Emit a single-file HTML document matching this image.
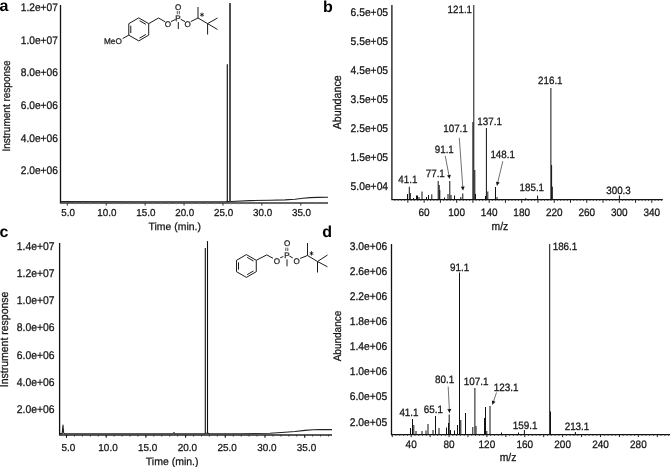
<!DOCTYPE html>
<html><head><meta charset="utf-8"><style>
html,body{margin:0;padding:0;background:#fff;}
svg{display:block;font-family:"Liberation Sans", sans-serif;text-rendering:geometricPrecision;filter:blur(0.35px);}
</style></head><body>
<svg width="670" height="467" viewBox="0 0 670 467">
<rect width="670" height="467" fill="#fff"/>
<line x1="60.50" y1="5.00" x2="60.50" y2="203.00" stroke="#111" stroke-width="1.3"/>
<line x1="59.90" y1="203.00" x2="328.00" y2="203.00" stroke="#333" stroke-width="1.5"/>
<line x1="67.31" y1="203.00" x2="67.31" y2="205.60" stroke="#333" stroke-width="1.0"/>
<line x1="75.10" y1="203.00" x2="75.10" y2="204.40" stroke="#888" stroke-width="0.8"/>
<line x1="82.88" y1="203.00" x2="82.88" y2="204.40" stroke="#888" stroke-width="0.8"/>
<line x1="90.66" y1="203.00" x2="90.66" y2="204.40" stroke="#888" stroke-width="0.8"/>
<line x1="98.45" y1="203.00" x2="98.45" y2="204.40" stroke="#888" stroke-width="0.8"/>
<line x1="106.23" y1="203.00" x2="106.23" y2="205.60" stroke="#333" stroke-width="1.0"/>
<line x1="114.01" y1="203.00" x2="114.01" y2="204.40" stroke="#888" stroke-width="0.8"/>
<line x1="121.80" y1="203.00" x2="121.80" y2="204.40" stroke="#888" stroke-width="0.8"/>
<line x1="129.58" y1="203.00" x2="129.58" y2="204.40" stroke="#888" stroke-width="0.8"/>
<line x1="137.36" y1="203.00" x2="137.36" y2="204.40" stroke="#888" stroke-width="0.8"/>
<line x1="145.15" y1="203.00" x2="145.15" y2="205.60" stroke="#333" stroke-width="1.0"/>
<line x1="152.93" y1="203.00" x2="152.93" y2="204.40" stroke="#888" stroke-width="0.8"/>
<line x1="160.71" y1="203.00" x2="160.71" y2="204.40" stroke="#888" stroke-width="0.8"/>
<line x1="168.49" y1="203.00" x2="168.49" y2="204.40" stroke="#888" stroke-width="0.8"/>
<line x1="176.28" y1="203.00" x2="176.28" y2="204.40" stroke="#888" stroke-width="0.8"/>
<line x1="184.06" y1="203.00" x2="184.06" y2="205.60" stroke="#333" stroke-width="1.0"/>
<line x1="191.84" y1="203.00" x2="191.84" y2="204.40" stroke="#888" stroke-width="0.8"/>
<line x1="199.63" y1="203.00" x2="199.63" y2="204.40" stroke="#888" stroke-width="0.8"/>
<line x1="207.41" y1="203.00" x2="207.41" y2="204.40" stroke="#888" stroke-width="0.8"/>
<line x1="215.19" y1="203.00" x2="215.19" y2="204.40" stroke="#888" stroke-width="0.8"/>
<line x1="222.98" y1="203.00" x2="222.98" y2="205.60" stroke="#333" stroke-width="1.0"/>
<line x1="230.76" y1="203.00" x2="230.76" y2="204.40" stroke="#888" stroke-width="0.8"/>
<line x1="238.54" y1="203.00" x2="238.54" y2="204.40" stroke="#888" stroke-width="0.8"/>
<line x1="246.32" y1="203.00" x2="246.32" y2="204.40" stroke="#888" stroke-width="0.8"/>
<line x1="254.11" y1="203.00" x2="254.11" y2="204.40" stroke="#888" stroke-width="0.8"/>
<line x1="261.89" y1="203.00" x2="261.89" y2="205.60" stroke="#333" stroke-width="1.0"/>
<line x1="269.67" y1="203.00" x2="269.67" y2="204.40" stroke="#888" stroke-width="0.8"/>
<line x1="277.46" y1="203.00" x2="277.46" y2="204.40" stroke="#888" stroke-width="0.8"/>
<line x1="285.24" y1="203.00" x2="285.24" y2="204.40" stroke="#888" stroke-width="0.8"/>
<line x1="293.02" y1="203.00" x2="293.02" y2="204.40" stroke="#888" stroke-width="0.8"/>
<line x1="300.81" y1="203.00" x2="300.81" y2="205.60" stroke="#333" stroke-width="1.0"/>
<line x1="308.59" y1="203.00" x2="308.59" y2="204.40" stroke="#888" stroke-width="0.8"/>
<line x1="316.37" y1="203.00" x2="316.37" y2="204.40" stroke="#888" stroke-width="0.8"/>
<line x1="324.15" y1="203.00" x2="324.15" y2="204.40" stroke="#888" stroke-width="0.8"/>
<text x="68.02" y="215.80" font-size="9.85" text-anchor="middle" font-weight="normal" fill="#151515" stroke="#151515" stroke-width="0.25" transform="translate(68.02 215.80) scale(1 1.02) translate(-68.02 -215.80)">5.0</text>
<text x="106.93" y="215.80" font-size="9.85" text-anchor="middle" font-weight="normal" fill="#151515" stroke="#151515" stroke-width="0.25" transform="translate(106.93 215.80) scale(1 1.02) translate(-106.93 -215.80)">10.0</text>
<text x="145.84" y="215.80" font-size="9.85" text-anchor="middle" font-weight="normal" fill="#151515" stroke="#151515" stroke-width="0.25" transform="translate(145.84 215.80) scale(1 1.02) translate(-145.84 -215.80)">15.0</text>
<text x="184.76" y="215.80" font-size="9.85" text-anchor="middle" font-weight="normal" fill="#151515" stroke="#151515" stroke-width="0.25" transform="translate(184.76 215.80) scale(1 1.02) translate(-184.76 -215.80)">20.0</text>
<text x="223.68" y="215.80" font-size="9.85" text-anchor="middle" font-weight="normal" fill="#151515" stroke="#151515" stroke-width="0.25" transform="translate(223.68 215.80) scale(1 1.02) translate(-223.68 -215.80)">25.0</text>
<text x="262.59" y="215.80" font-size="9.85" text-anchor="middle" font-weight="normal" fill="#151515" stroke="#151515" stroke-width="0.25" transform="translate(262.59 215.80) scale(1 1.02) translate(-262.59 -215.80)">30.0</text>
<text x="301.50" y="215.80" font-size="9.85" text-anchor="middle" font-weight="normal" fill="#151515" stroke="#151515" stroke-width="0.25" transform="translate(301.50 215.80) scale(1 1.02) translate(-301.50 -215.80)">35.0</text>
<text x="57.90" y="10.90" font-size="10.2" text-anchor="end" font-weight="normal" fill="#151515" stroke="#151515" stroke-width="0.25" transform="translate(57.90 10.90) scale(1 1.08) translate(-57.90 -10.90)">1.2e+07</text>
<text x="57.90" y="43.60" font-size="10.2" text-anchor="end" font-weight="normal" fill="#151515" stroke="#151515" stroke-width="0.25" transform="translate(57.90 43.60) scale(1 1.08) translate(-57.90 -43.60)">1.0e+07</text>
<text x="57.90" y="76.30" font-size="10.2" text-anchor="end" font-weight="normal" fill="#151515" stroke="#151515" stroke-width="0.25" transform="translate(57.90 76.30) scale(1 1.08) translate(-57.90 -76.30)">8.0e+06</text>
<text x="57.90" y="109.00" font-size="10.2" text-anchor="end" font-weight="normal" fill="#151515" stroke="#151515" stroke-width="0.25" transform="translate(57.90 109.00) scale(1 1.08) translate(-57.90 -109.00)">6.0e+06</text>
<text x="57.90" y="141.70" font-size="10.2" text-anchor="end" font-weight="normal" fill="#151515" stroke="#151515" stroke-width="0.25" transform="translate(57.90 141.70) scale(1 1.08) translate(-57.90 -141.70)">4.0e+06</text>
<text x="57.90" y="174.40" font-size="10.2" text-anchor="end" font-weight="normal" fill="#151515" stroke="#151515" stroke-width="0.25" transform="translate(57.90 174.40) scale(1 1.08) translate(-57.90 -174.40)">2.0e+06</text>
<text x="174.70" y="230.00" font-size="10.45" text-anchor="middle" font-weight="normal" fill="#151515" stroke="#151515" stroke-width="0.25">Time (min.)</text>
<text x="9.80" y="106.00" font-size="10" text-anchor="middle" font-weight="normal" fill="#151515" stroke="#151515" stroke-width="0.25" transform="rotate(-90 9.80 106.00) translate(9.80 106.00) scale(1 1.08) translate(-9.80 -106.00)">Instrument response</text>
<text x="-0.50" y="10.70" font-size="16" text-anchor="start" font-weight="bold" fill="#000">a</text>
<polyline points="60.50,201.60 150.00,201.70 226.60,201.60 226.90,201.30 227.10,201.60 231.20,201.50 250.00,200.60 270.00,200.30 285.00,199.90 295.00,199.20 303.00,198.20 310.00,197.60 318.00,197.40 328.00,197.30" fill="none" stroke="#222" stroke-width="1.1" stroke-linejoin="round"/>
<line x1="227.30" y1="201.60" x2="227.30" y2="64.20" stroke="#1a1a1a" stroke-width="1.2"/>
<line x1="230.00" y1="201.60" x2="230.00" y2="3.00" stroke="#505050" stroke-width="2.0"/>
<line x1="59.60" y1="243.00" x2="59.60" y2="434.90" stroke="#111" stroke-width="1.3"/>
<line x1="59.00" y1="434.90" x2="332.00" y2="434.90" stroke="#222" stroke-width="1.5"/>
<line x1="66.50" y1="434.90" x2="66.50" y2="437.80" stroke="#111" stroke-width="1.1"/>
<line x1="74.44" y1="434.90" x2="74.44" y2="436.50" stroke="#333" stroke-width="1.0"/>
<line x1="82.38" y1="434.90" x2="82.38" y2="436.50" stroke="#333" stroke-width="1.0"/>
<line x1="90.32" y1="434.90" x2="90.32" y2="436.50" stroke="#333" stroke-width="1.0"/>
<line x1="98.26" y1="434.90" x2="98.26" y2="436.50" stroke="#333" stroke-width="1.0"/>
<line x1="106.20" y1="434.90" x2="106.20" y2="437.80" stroke="#111" stroke-width="1.1"/>
<line x1="114.14" y1="434.90" x2="114.14" y2="436.50" stroke="#333" stroke-width="1.0"/>
<line x1="122.08" y1="434.90" x2="122.08" y2="436.50" stroke="#333" stroke-width="1.0"/>
<line x1="130.02" y1="434.90" x2="130.02" y2="436.50" stroke="#333" stroke-width="1.0"/>
<line x1="137.96" y1="434.90" x2="137.96" y2="436.50" stroke="#333" stroke-width="1.0"/>
<line x1="145.90" y1="434.90" x2="145.90" y2="437.80" stroke="#111" stroke-width="1.1"/>
<line x1="153.84" y1="434.90" x2="153.84" y2="436.50" stroke="#333" stroke-width="1.0"/>
<line x1="161.78" y1="434.90" x2="161.78" y2="436.50" stroke="#333" stroke-width="1.0"/>
<line x1="169.72" y1="434.90" x2="169.72" y2="436.50" stroke="#333" stroke-width="1.0"/>
<line x1="177.66" y1="434.90" x2="177.66" y2="436.50" stroke="#333" stroke-width="1.0"/>
<line x1="185.60" y1="434.90" x2="185.60" y2="437.80" stroke="#111" stroke-width="1.1"/>
<line x1="193.54" y1="434.90" x2="193.54" y2="436.50" stroke="#333" stroke-width="1.0"/>
<line x1="201.48" y1="434.90" x2="201.48" y2="436.50" stroke="#333" stroke-width="1.0"/>
<line x1="209.42" y1="434.90" x2="209.42" y2="436.50" stroke="#333" stroke-width="1.0"/>
<line x1="217.36" y1="434.90" x2="217.36" y2="436.50" stroke="#333" stroke-width="1.0"/>
<line x1="225.30" y1="434.90" x2="225.30" y2="437.80" stroke="#111" stroke-width="1.1"/>
<line x1="233.24" y1="434.90" x2="233.24" y2="436.50" stroke="#333" stroke-width="1.0"/>
<line x1="241.18" y1="434.90" x2="241.18" y2="436.50" stroke="#333" stroke-width="1.0"/>
<line x1="249.12" y1="434.90" x2="249.12" y2="436.50" stroke="#333" stroke-width="1.0"/>
<line x1="257.06" y1="434.90" x2="257.06" y2="436.50" stroke="#333" stroke-width="1.0"/>
<line x1="265.00" y1="434.90" x2="265.00" y2="437.80" stroke="#111" stroke-width="1.1"/>
<line x1="272.94" y1="434.90" x2="272.94" y2="436.50" stroke="#333" stroke-width="1.0"/>
<line x1="280.88" y1="434.90" x2="280.88" y2="436.50" stroke="#333" stroke-width="1.0"/>
<line x1="288.82" y1="434.90" x2="288.82" y2="436.50" stroke="#333" stroke-width="1.0"/>
<line x1="296.76" y1="434.90" x2="296.76" y2="436.50" stroke="#333" stroke-width="1.0"/>
<line x1="304.70" y1="434.90" x2="304.70" y2="437.80" stroke="#111" stroke-width="1.1"/>
<line x1="312.64" y1="434.90" x2="312.64" y2="436.50" stroke="#333" stroke-width="1.0"/>
<line x1="320.58" y1="434.90" x2="320.58" y2="436.50" stroke="#333" stroke-width="1.0"/>
<line x1="328.52" y1="434.90" x2="328.52" y2="436.50" stroke="#333" stroke-width="1.0"/>
<text x="68.30" y="450.50" font-size="9.95" text-anchor="middle" font-weight="normal" fill="#151515" stroke="#151515" stroke-width="0.25" transform="translate(68.30 450.50) scale(1 1.02) translate(-68.30 -450.50)">5.0</text>
<text x="108.00" y="450.50" font-size="9.95" text-anchor="middle" font-weight="normal" fill="#151515" stroke="#151515" stroke-width="0.25" transform="translate(108.00 450.50) scale(1 1.02) translate(-108.00 -450.50)">10.0</text>
<text x="147.70" y="450.50" font-size="9.95" text-anchor="middle" font-weight="normal" fill="#151515" stroke="#151515" stroke-width="0.25" transform="translate(147.70 450.50) scale(1 1.02) translate(-147.70 -450.50)">15.0</text>
<text x="187.40" y="450.50" font-size="9.95" text-anchor="middle" font-weight="normal" fill="#151515" stroke="#151515" stroke-width="0.25" transform="translate(187.40 450.50) scale(1 1.02) translate(-187.40 -450.50)">20.0</text>
<text x="227.10" y="450.50" font-size="9.95" text-anchor="middle" font-weight="normal" fill="#151515" stroke="#151515" stroke-width="0.25" transform="translate(227.10 450.50) scale(1 1.02) translate(-227.10 -450.50)">25.0</text>
<text x="266.80" y="450.50" font-size="9.95" text-anchor="middle" font-weight="normal" fill="#151515" stroke="#151515" stroke-width="0.25" transform="translate(266.80 450.50) scale(1 1.02) translate(-266.80 -450.50)">30.0</text>
<text x="306.50" y="450.50" font-size="9.95" text-anchor="middle" font-weight="normal" fill="#151515" stroke="#151515" stroke-width="0.25" transform="translate(306.50 450.50) scale(1 1.02) translate(-306.50 -450.50)">35.0</text>
<text x="54.60" y="249.70" font-size="10.4" text-anchor="end" font-weight="normal" fill="#151515" stroke="#151515" stroke-width="0.25" transform="translate(54.60 249.70) scale(1 1.08) translate(-54.60 -249.70)">1.4e+07</text>
<text x="54.60" y="276.95" font-size="10.4" text-anchor="end" font-weight="normal" fill="#151515" stroke="#151515" stroke-width="0.25" transform="translate(54.60 276.95) scale(1 1.08) translate(-54.60 -276.95)">1.2e+07</text>
<text x="54.60" y="304.20" font-size="10.4" text-anchor="end" font-weight="normal" fill="#151515" stroke="#151515" stroke-width="0.25" transform="translate(54.60 304.20) scale(1 1.08) translate(-54.60 -304.20)">1.0e+07</text>
<text x="54.60" y="331.45" font-size="10.4" text-anchor="end" font-weight="normal" fill="#151515" stroke="#151515" stroke-width="0.25" transform="translate(54.60 331.45) scale(1 1.08) translate(-54.60 -331.45)">8.0e+06</text>
<text x="54.60" y="358.70" font-size="10.4" text-anchor="end" font-weight="normal" fill="#151515" stroke="#151515" stroke-width="0.25" transform="translate(54.60 358.70) scale(1 1.08) translate(-54.60 -358.70)">6.0e+06</text>
<text x="54.60" y="385.95" font-size="10.4" text-anchor="end" font-weight="normal" fill="#151515" stroke="#151515" stroke-width="0.25" transform="translate(54.60 385.95) scale(1 1.08) translate(-54.60 -385.95)">4.0e+06</text>
<text x="54.60" y="413.20" font-size="10.4" text-anchor="end" font-weight="normal" fill="#151515" stroke="#151515" stroke-width="0.25" transform="translate(54.60 413.20) scale(1 1.08) translate(-54.60 -413.20)">2.0e+06</text>
<text x="172.20" y="464.90" font-size="10.5" text-anchor="middle" font-weight="normal" fill="#151515" stroke="#151515" stroke-width="0.25">Time (min.)</text>
<text x="7.70" y="339.40" font-size="10.5" text-anchor="middle" font-weight="normal" fill="#151515" stroke="#151515" stroke-width="0.25" transform="rotate(-90 7.70 339.40) translate(7.70 339.40) scale(1 1.08) translate(-7.70 -339.40)">Instrument response</text>
<text x="-0.50" y="236.50" font-size="16" text-anchor="start" font-weight="bold" fill="#000">c</text>
<polyline points="60.00,433.60 62.20,433.60 63.00,425.00 63.70,433.30 65.00,433.70 173.00,433.70 174.00,432.70 175.00,433.70 204.80,433.60 205.10,433.30 208.00,433.30 209.00,433.60 240.00,433.80 270.00,433.20 285.00,432.30 295.00,431.50 305.00,430.40 313.00,429.70 320.00,429.60 332.00,429.60" fill="none" stroke="#222" stroke-width="1.1" stroke-linejoin="round"/>
<line x1="205.30" y1="433.60" x2="205.30" y2="248.00" stroke="#111" stroke-width="1.1"/>
<line x1="207.50" y1="433.60" x2="207.50" y2="241.10" stroke="#111" stroke-width="1.1"/>
<line x1="391.90" y1="5.00" x2="391.90" y2="199.60" stroke="#111" stroke-width="1.3"/>
<line x1="391.30" y1="199.60" x2="662.80" y2="199.60" stroke="#111" stroke-width="1.3"/>
<line x1="394.86" y1="199.60" x2="394.86" y2="200.90" stroke="#333" stroke-width="0.9"/>
<line x1="398.12" y1="199.60" x2="398.12" y2="200.90" stroke="#333" stroke-width="0.9"/>
<line x1="401.37" y1="199.60" x2="401.37" y2="200.90" stroke="#333" stroke-width="0.9"/>
<line x1="404.62" y1="199.60" x2="404.62" y2="200.90" stroke="#333" stroke-width="0.9"/>
<line x1="407.87" y1="199.60" x2="407.87" y2="202.80" stroke="#222" stroke-width="1.0"/>
<line x1="411.13" y1="199.60" x2="411.13" y2="200.90" stroke="#333" stroke-width="0.9"/>
<line x1="414.38" y1="199.60" x2="414.38" y2="200.90" stroke="#333" stroke-width="0.9"/>
<line x1="417.63" y1="199.60" x2="417.63" y2="200.90" stroke="#333" stroke-width="0.9"/>
<line x1="420.88" y1="199.60" x2="420.88" y2="200.90" stroke="#333" stroke-width="0.9"/>
<line x1="424.14" y1="199.60" x2="424.14" y2="202.80" stroke="#222" stroke-width="1.0"/>
<line x1="427.39" y1="199.60" x2="427.39" y2="200.90" stroke="#333" stroke-width="0.9"/>
<line x1="430.64" y1="199.60" x2="430.64" y2="200.90" stroke="#333" stroke-width="0.9"/>
<line x1="433.89" y1="199.60" x2="433.89" y2="200.90" stroke="#333" stroke-width="0.9"/>
<line x1="437.15" y1="199.60" x2="437.15" y2="200.90" stroke="#333" stroke-width="0.9"/>
<line x1="440.40" y1="199.60" x2="440.40" y2="202.80" stroke="#222" stroke-width="1.0"/>
<line x1="443.65" y1="199.60" x2="443.65" y2="200.90" stroke="#333" stroke-width="0.9"/>
<line x1="446.90" y1="199.60" x2="446.90" y2="200.90" stroke="#333" stroke-width="0.9"/>
<line x1="450.16" y1="199.60" x2="450.16" y2="200.90" stroke="#333" stroke-width="0.9"/>
<line x1="453.41" y1="199.60" x2="453.41" y2="200.90" stroke="#333" stroke-width="0.9"/>
<line x1="456.66" y1="199.60" x2="456.66" y2="202.80" stroke="#222" stroke-width="1.0"/>
<line x1="459.91" y1="199.60" x2="459.91" y2="200.90" stroke="#333" stroke-width="0.9"/>
<line x1="463.16" y1="199.60" x2="463.16" y2="200.90" stroke="#333" stroke-width="0.9"/>
<line x1="466.42" y1="199.60" x2="466.42" y2="200.90" stroke="#333" stroke-width="0.9"/>
<line x1="469.67" y1="199.60" x2="469.67" y2="200.90" stroke="#333" stroke-width="0.9"/>
<line x1="472.92" y1="199.60" x2="472.92" y2="202.80" stroke="#222" stroke-width="1.0"/>
<line x1="476.17" y1="199.60" x2="476.17" y2="200.90" stroke="#333" stroke-width="0.9"/>
<line x1="479.43" y1="199.60" x2="479.43" y2="200.90" stroke="#333" stroke-width="0.9"/>
<line x1="482.68" y1="199.60" x2="482.68" y2="200.90" stroke="#333" stroke-width="0.9"/>
<line x1="485.93" y1="199.60" x2="485.93" y2="200.90" stroke="#333" stroke-width="0.9"/>
<line x1="489.18" y1="199.60" x2="489.18" y2="202.80" stroke="#222" stroke-width="1.0"/>
<line x1="492.44" y1="199.60" x2="492.44" y2="200.90" stroke="#333" stroke-width="0.9"/>
<line x1="495.69" y1="199.60" x2="495.69" y2="200.90" stroke="#333" stroke-width="0.9"/>
<line x1="498.94" y1="199.60" x2="498.94" y2="200.90" stroke="#333" stroke-width="0.9"/>
<line x1="502.19" y1="199.60" x2="502.19" y2="200.90" stroke="#333" stroke-width="0.9"/>
<line x1="505.45" y1="199.60" x2="505.45" y2="202.80" stroke="#222" stroke-width="1.0"/>
<line x1="508.70" y1="199.60" x2="508.70" y2="200.90" stroke="#333" stroke-width="0.9"/>
<line x1="511.95" y1="199.60" x2="511.95" y2="200.90" stroke="#333" stroke-width="0.9"/>
<line x1="515.20" y1="199.60" x2="515.20" y2="200.90" stroke="#333" stroke-width="0.9"/>
<line x1="518.46" y1="199.60" x2="518.46" y2="200.90" stroke="#333" stroke-width="0.9"/>
<line x1="521.71" y1="199.60" x2="521.71" y2="202.80" stroke="#222" stroke-width="1.0"/>
<line x1="524.96" y1="199.60" x2="524.96" y2="200.90" stroke="#333" stroke-width="0.9"/>
<line x1="528.21" y1="199.60" x2="528.21" y2="200.90" stroke="#333" stroke-width="0.9"/>
<line x1="531.47" y1="199.60" x2="531.47" y2="200.90" stroke="#333" stroke-width="0.9"/>
<line x1="534.72" y1="199.60" x2="534.72" y2="200.90" stroke="#333" stroke-width="0.9"/>
<line x1="537.97" y1="199.60" x2="537.97" y2="202.80" stroke="#222" stroke-width="1.0"/>
<line x1="541.22" y1="199.60" x2="541.22" y2="200.90" stroke="#333" stroke-width="0.9"/>
<line x1="544.47" y1="199.60" x2="544.47" y2="200.90" stroke="#333" stroke-width="0.9"/>
<line x1="547.73" y1="199.60" x2="547.73" y2="200.90" stroke="#333" stroke-width="0.9"/>
<line x1="550.98" y1="199.60" x2="550.98" y2="200.90" stroke="#333" stroke-width="0.9"/>
<line x1="554.23" y1="199.60" x2="554.23" y2="202.80" stroke="#222" stroke-width="1.0"/>
<line x1="557.48" y1="199.60" x2="557.48" y2="200.90" stroke="#333" stroke-width="0.9"/>
<line x1="560.74" y1="199.60" x2="560.74" y2="200.90" stroke="#333" stroke-width="0.9"/>
<line x1="563.99" y1="199.60" x2="563.99" y2="200.90" stroke="#333" stroke-width="0.9"/>
<line x1="567.24" y1="199.60" x2="567.24" y2="200.90" stroke="#333" stroke-width="0.9"/>
<line x1="570.49" y1="199.60" x2="570.49" y2="202.80" stroke="#222" stroke-width="1.0"/>
<line x1="573.75" y1="199.60" x2="573.75" y2="200.90" stroke="#333" stroke-width="0.9"/>
<line x1="577.00" y1="199.60" x2="577.00" y2="200.90" stroke="#333" stroke-width="0.9"/>
<line x1="580.25" y1="199.60" x2="580.25" y2="200.90" stroke="#333" stroke-width="0.9"/>
<line x1="583.50" y1="199.60" x2="583.50" y2="200.90" stroke="#333" stroke-width="0.9"/>
<line x1="586.76" y1="199.60" x2="586.76" y2="202.80" stroke="#222" stroke-width="1.0"/>
<line x1="590.01" y1="199.60" x2="590.01" y2="200.90" stroke="#333" stroke-width="0.9"/>
<line x1="593.26" y1="199.60" x2="593.26" y2="200.90" stroke="#333" stroke-width="0.9"/>
<line x1="596.51" y1="199.60" x2="596.51" y2="200.90" stroke="#333" stroke-width="0.9"/>
<line x1="599.77" y1="199.60" x2="599.77" y2="200.90" stroke="#333" stroke-width="0.9"/>
<line x1="603.02" y1="199.60" x2="603.02" y2="202.80" stroke="#222" stroke-width="1.0"/>
<line x1="606.27" y1="199.60" x2="606.27" y2="200.90" stroke="#333" stroke-width="0.9"/>
<line x1="609.52" y1="199.60" x2="609.52" y2="200.90" stroke="#333" stroke-width="0.9"/>
<line x1="612.78" y1="199.60" x2="612.78" y2="200.90" stroke="#333" stroke-width="0.9"/>
<line x1="616.03" y1="199.60" x2="616.03" y2="200.90" stroke="#333" stroke-width="0.9"/>
<line x1="619.28" y1="199.60" x2="619.28" y2="202.80" stroke="#222" stroke-width="1.0"/>
<line x1="622.53" y1="199.60" x2="622.53" y2="200.90" stroke="#333" stroke-width="0.9"/>
<line x1="625.78" y1="199.60" x2="625.78" y2="200.90" stroke="#333" stroke-width="0.9"/>
<line x1="629.04" y1="199.60" x2="629.04" y2="200.90" stroke="#333" stroke-width="0.9"/>
<line x1="632.29" y1="199.60" x2="632.29" y2="200.90" stroke="#333" stroke-width="0.9"/>
<line x1="635.54" y1="199.60" x2="635.54" y2="202.80" stroke="#222" stroke-width="1.0"/>
<line x1="638.79" y1="199.60" x2="638.79" y2="200.90" stroke="#333" stroke-width="0.9"/>
<line x1="642.05" y1="199.60" x2="642.05" y2="200.90" stroke="#333" stroke-width="0.9"/>
<line x1="645.30" y1="199.60" x2="645.30" y2="200.90" stroke="#333" stroke-width="0.9"/>
<line x1="648.55" y1="199.60" x2="648.55" y2="200.90" stroke="#333" stroke-width="0.9"/>
<line x1="651.80" y1="199.60" x2="651.80" y2="202.80" stroke="#222" stroke-width="1.0"/>
<line x1="655.06" y1="199.60" x2="655.06" y2="200.90" stroke="#333" stroke-width="0.9"/>
<line x1="658.31" y1="199.60" x2="658.31" y2="200.90" stroke="#333" stroke-width="0.9"/>
<line x1="661.56" y1="199.60" x2="661.56" y2="200.90" stroke="#333" stroke-width="0.9"/>
<text x="424.14" y="215.70" font-size="10" text-anchor="middle" font-weight="normal" fill="#151515" stroke="#151515" stroke-width="0.25" transform="translate(424.14 215.70) scale(1 1.08) translate(-424.14 -215.70)">60</text>
<text x="456.66" y="215.70" font-size="10" text-anchor="middle" font-weight="normal" fill="#151515" stroke="#151515" stroke-width="0.25" transform="translate(456.66 215.70) scale(1 1.08) translate(-456.66 -215.70)">100</text>
<text x="489.18" y="215.70" font-size="10" text-anchor="middle" font-weight="normal" fill="#151515" stroke="#151515" stroke-width="0.25" transform="translate(489.18 215.70) scale(1 1.08) translate(-489.18 -215.70)">140</text>
<text x="521.71" y="215.70" font-size="10" text-anchor="middle" font-weight="normal" fill="#151515" stroke="#151515" stroke-width="0.25" transform="translate(521.71 215.70) scale(1 1.08) translate(-521.71 -215.70)">180</text>
<text x="554.23" y="215.70" font-size="10" text-anchor="middle" font-weight="normal" fill="#151515" stroke="#151515" stroke-width="0.25" transform="translate(554.23 215.70) scale(1 1.08) translate(-554.23 -215.70)">220</text>
<text x="586.76" y="215.70" font-size="10" text-anchor="middle" font-weight="normal" fill="#151515" stroke="#151515" stroke-width="0.25" transform="translate(586.76 215.70) scale(1 1.08) translate(-586.76 -215.70)">260</text>
<text x="619.28" y="215.70" font-size="10" text-anchor="middle" font-weight="normal" fill="#151515" stroke="#151515" stroke-width="0.25" transform="translate(619.28 215.70) scale(1 1.08) translate(-619.28 -215.70)">300</text>
<text x="651.80" y="215.70" font-size="10" text-anchor="middle" font-weight="normal" fill="#151515" stroke="#151515" stroke-width="0.25" transform="translate(651.80 215.70) scale(1 1.08) translate(-651.80 -215.70)">340</text>
<text x="388.10" y="15.76" font-size="10.3" text-anchor="end" font-weight="normal" fill="#151515" stroke="#151515" stroke-width="0.25" transform="translate(388.10 15.76) scale(1 1.08) translate(-388.10 -15.76)">6.5e+05</text>
<text x="388.10" y="44.72" font-size="10.3" text-anchor="end" font-weight="normal" fill="#151515" stroke="#151515" stroke-width="0.25" transform="translate(388.10 44.72) scale(1 1.08) translate(-388.10 -44.72)">5.5e+05</text>
<text x="388.10" y="73.68" font-size="10.3" text-anchor="end" font-weight="normal" fill="#151515" stroke="#151515" stroke-width="0.25" transform="translate(388.10 73.68) scale(1 1.08) translate(-388.10 -73.68)">4.5e+05</text>
<text x="388.10" y="102.64" font-size="10.3" text-anchor="end" font-weight="normal" fill="#151515" stroke="#151515" stroke-width="0.25" transform="translate(388.10 102.64) scale(1 1.08) translate(-388.10 -102.64)">3.5e+05</text>
<text x="388.10" y="131.60" font-size="10.3" text-anchor="end" font-weight="normal" fill="#151515" stroke="#151515" stroke-width="0.25" transform="translate(388.10 131.60) scale(1 1.08) translate(-388.10 -131.60)">2.5e+05</text>
<text x="388.10" y="160.56" font-size="10.3" text-anchor="end" font-weight="normal" fill="#151515" stroke="#151515" stroke-width="0.25" transform="translate(388.10 160.56) scale(1 1.08) translate(-388.10 -160.56)">1.5e+05</text>
<text x="388.10" y="189.52" font-size="10.3" text-anchor="end" font-weight="normal" fill="#151515" stroke="#151515" stroke-width="0.25" transform="translate(388.10 189.52) scale(1 1.08) translate(-388.10 -189.52)">5.0e+04</text>
<text x="499.90" y="230.20" font-size="10.4" text-anchor="middle" font-weight="normal" fill="#151515" stroke="#151515" stroke-width="0.25" transform="translate(499.90 230.20) scale(1 1.08) translate(-499.90 -230.20)">m/z</text>
<text x="341.00" y="102.30" font-size="10.7" text-anchor="middle" font-weight="normal" fill="#151515" stroke="#151515" stroke-width="0.25" transform="rotate(-90 341.00 102.30) translate(341.00 102.30) scale(1 1.08) translate(-341.00 -102.30)">Abundance</text>
<text x="322.90" y="12.00" font-size="16" text-anchor="start" font-weight="bold" fill="#000">b</text>
<line x1="407.50" y1="199.60" x2="407.50" y2="194.00" stroke="#111" stroke-width="1.0"/>
<line x1="409.30" y1="199.60" x2="409.30" y2="186.80" stroke="#111" stroke-width="1.0"/>
<line x1="410.30" y1="199.60" x2="410.30" y2="193.00" stroke="#111" stroke-width="1.0"/>
<line x1="413.50" y1="199.60" x2="413.50" y2="198.00" stroke="#111" stroke-width="1.0"/>
<line x1="416.50" y1="199.60" x2="416.50" y2="195.50" stroke="#111" stroke-width="1.0"/>
<line x1="417.50" y1="199.60" x2="417.50" y2="195.50" stroke="#111" stroke-width="1.0"/>
<line x1="419.00" y1="199.60" x2="419.00" y2="197.00" stroke="#111" stroke-width="1.0"/>
<line x1="422.00" y1="199.60" x2="422.00" y2="191.50" stroke="#111" stroke-width="1.0"/>
<line x1="426.50" y1="199.60" x2="426.50" y2="197.00" stroke="#111" stroke-width="1.0"/>
<line x1="428.50" y1="199.60" x2="428.50" y2="195.00" stroke="#111" stroke-width="1.0"/>
<line x1="431.80" y1="199.60" x2="431.80" y2="194.30" stroke="#111" stroke-width="1.0"/>
<line x1="438.20" y1="199.60" x2="438.20" y2="181.00" stroke="#111" stroke-width="1.0"/>
<line x1="439.20" y1="199.60" x2="439.20" y2="185.00" stroke="#111" stroke-width="1.0"/>
<line x1="439.80" y1="199.60" x2="439.80" y2="190.00" stroke="#111" stroke-width="1.0"/>
<line x1="444.50" y1="199.60" x2="444.50" y2="197.50" stroke="#111" stroke-width="1.0"/>
<line x1="448.00" y1="199.60" x2="448.00" y2="194.00" stroke="#111" stroke-width="1.0"/>
<line x1="449.80" y1="199.60" x2="449.80" y2="181.00" stroke="#111" stroke-width="1.0"/>
<line x1="451.00" y1="199.60" x2="451.00" y2="195.00" stroke="#111" stroke-width="1.0"/>
<line x1="454.50" y1="199.60" x2="454.50" y2="195.50" stroke="#111" stroke-width="1.0"/>
<line x1="460.80" y1="199.60" x2="460.80" y2="197.00" stroke="#111" stroke-width="1.0"/>
<line x1="462.80" y1="199.60" x2="462.80" y2="193.50" stroke="#111" stroke-width="1.0"/>
<line x1="472.90" y1="199.60" x2="472.90" y2="122.00" stroke="#111" stroke-width="1.0"/>
<line x1="473.80" y1="199.60" x2="473.80" y2="5.00" stroke="#111" stroke-width="1.0"/>
<line x1="474.80" y1="199.60" x2="474.80" y2="170.00" stroke="#111" stroke-width="1.0"/>
<line x1="475.50" y1="199.60" x2="475.50" y2="194.00" stroke="#111" stroke-width="1.0"/>
<line x1="485.50" y1="199.60" x2="485.50" y2="196.00" stroke="#111" stroke-width="1.0"/>
<line x1="486.40" y1="199.60" x2="486.40" y2="128.00" stroke="#111" stroke-width="1.0"/>
<line x1="487.80" y1="199.60" x2="487.80" y2="191.50" stroke="#111" stroke-width="1.0"/>
<line x1="495.50" y1="199.60" x2="495.50" y2="187.00" stroke="#111" stroke-width="1.0"/>
<line x1="497.00" y1="199.60" x2="497.00" y2="197.00" stroke="#111" stroke-width="1.0"/>
<line x1="525.80" y1="199.60" x2="525.80" y2="198.20" stroke="#111" stroke-width="1.0"/>
<line x1="537.60" y1="199.60" x2="537.60" y2="195.60" stroke="#111" stroke-width="1.0"/>
<line x1="550.90" y1="199.60" x2="550.90" y2="88.00" stroke="#111" stroke-width="1.0"/>
<line x1="551.60" y1="199.60" x2="551.60" y2="165.00" stroke="#111" stroke-width="1.0"/>
<line x1="552.30" y1="199.60" x2="552.30" y2="186.60" stroke="#111" stroke-width="1.0"/>
<line x1="619.40" y1="199.60" x2="619.40" y2="195.50" stroke="#111" stroke-width="1.0"/>
<text x="459.80" y="12.60" font-size="9.8" text-anchor="middle" font-weight="normal" fill="#151515" stroke="#151515" stroke-width="0.25" transform="translate(459.80 12.60) scale(1 1.08) translate(-459.80 -12.60)">121.1</text>
<text x="550.30" y="83.70" font-size="9.8" text-anchor="middle" font-weight="normal" fill="#151515" stroke="#151515" stroke-width="0.25" transform="translate(550.30 83.70) scale(1 1.08) translate(-550.30 -83.70)">216.1</text>
<text x="489.60" y="124.50" font-size="9.8" text-anchor="middle" font-weight="normal" fill="#151515" stroke="#151515" stroke-width="0.25" transform="translate(489.60 124.50) scale(1 1.08) translate(-489.60 -124.50)">137.1</text>
<text x="455.50" y="131.50" font-size="9.8" text-anchor="middle" font-weight="normal" fill="#151515" stroke="#151515" stroke-width="0.25" transform="translate(455.50 131.50) scale(1 1.08) translate(-455.50 -131.50)">107.1</text>
<text x="444.30" y="152.60" font-size="9.8" text-anchor="middle" font-weight="normal" fill="#151515" stroke="#151515" stroke-width="0.25" transform="translate(444.30 152.60) scale(1 1.08) translate(-444.30 -152.60)">91.1</text>
<text x="502.70" y="157.70" font-size="9.8" text-anchor="middle" font-weight="normal" fill="#151515" stroke="#151515" stroke-width="0.25" transform="translate(502.70 157.70) scale(1 1.08) translate(-502.70 -157.70)">148.1</text>
<text x="407.90" y="183.20" font-size="9.8" text-anchor="middle" font-weight="normal" fill="#151515" stroke="#151515" stroke-width="0.25" transform="translate(407.90 183.20) scale(1 1.08) translate(-407.90 -183.20)">41.1</text>
<text x="435.30" y="176.70" font-size="9.8" text-anchor="middle" font-weight="normal" fill="#151515" stroke="#151515" stroke-width="0.25" transform="translate(435.30 176.70) scale(1 1.08) translate(-435.30 -176.70)">77.1</text>
<text x="531.80" y="191.20" font-size="9.8" text-anchor="middle" font-weight="normal" fill="#151515" stroke="#151515" stroke-width="0.25" transform="translate(531.80 191.20) scale(1 1.08) translate(-531.80 -191.20)">185.1</text>
<text x="618.50" y="193.70" font-size="9.8" text-anchor="middle" font-weight="normal" fill="#151515" stroke="#151515" stroke-width="0.25" transform="translate(618.50 193.70) scale(1 1.08) translate(-618.50 -193.70)">300.3</text>
<line x1="445.20" y1="155.80" x2="449.60" y2="178.60" stroke="#333" stroke-width="0.7"/>
<polygon points="449.60,178.60 446.97,175.44 450.86,174.69" fill="#111"/>
<line x1="459.30" y1="137.80" x2="463.00" y2="190.20" stroke="#333" stroke-width="0.7"/>
<polygon points="463.00,190.20 460.77,186.75 464.72,186.47" fill="#111"/>
<line x1="502.80" y1="161.20" x2="497.00" y2="185.60" stroke="#333" stroke-width="0.7"/>
<polygon points="497.00,185.60 495.91,181.64 499.76,182.56" fill="#111"/>
<line x1="391.50" y1="244.00" x2="391.50" y2="434.60" stroke="#111" stroke-width="1.3"/>
<line x1="390.90" y1="434.60" x2="670.00" y2="434.60" stroke="#111" stroke-width="1.3"/>
<line x1="392.24" y1="434.60" x2="392.24" y2="437.10" stroke="#222" stroke-width="1.0"/>
<line x1="396.03" y1="434.60" x2="396.03" y2="435.90" stroke="#333" stroke-width="0.9"/>
<line x1="399.81" y1="434.60" x2="399.81" y2="435.90" stroke="#333" stroke-width="0.9"/>
<line x1="403.60" y1="434.60" x2="403.60" y2="435.90" stroke="#333" stroke-width="0.9"/>
<line x1="407.39" y1="434.60" x2="407.39" y2="435.90" stroke="#333" stroke-width="0.9"/>
<line x1="411.17" y1="434.60" x2="411.17" y2="437.10" stroke="#222" stroke-width="1.0"/>
<line x1="414.96" y1="434.60" x2="414.96" y2="435.90" stroke="#333" stroke-width="0.9"/>
<line x1="418.75" y1="434.60" x2="418.75" y2="435.90" stroke="#333" stroke-width="0.9"/>
<line x1="422.53" y1="434.60" x2="422.53" y2="435.90" stroke="#333" stroke-width="0.9"/>
<line x1="426.32" y1="434.60" x2="426.32" y2="435.90" stroke="#333" stroke-width="0.9"/>
<line x1="430.11" y1="434.60" x2="430.11" y2="437.10" stroke="#222" stroke-width="1.0"/>
<line x1="433.89" y1="434.60" x2="433.89" y2="435.90" stroke="#333" stroke-width="0.9"/>
<line x1="437.68" y1="434.60" x2="437.68" y2="435.90" stroke="#333" stroke-width="0.9"/>
<line x1="441.47" y1="434.60" x2="441.47" y2="435.90" stroke="#333" stroke-width="0.9"/>
<line x1="445.25" y1="434.60" x2="445.25" y2="435.90" stroke="#333" stroke-width="0.9"/>
<line x1="449.04" y1="434.60" x2="449.04" y2="437.10" stroke="#222" stroke-width="1.0"/>
<line x1="452.82" y1="434.60" x2="452.82" y2="435.90" stroke="#333" stroke-width="0.9"/>
<line x1="456.61" y1="434.60" x2="456.61" y2="435.90" stroke="#333" stroke-width="0.9"/>
<line x1="460.40" y1="434.60" x2="460.40" y2="435.90" stroke="#333" stroke-width="0.9"/>
<line x1="464.18" y1="434.60" x2="464.18" y2="435.90" stroke="#333" stroke-width="0.9"/>
<line x1="467.97" y1="434.60" x2="467.97" y2="437.10" stroke="#222" stroke-width="1.0"/>
<line x1="471.76" y1="434.60" x2="471.76" y2="435.90" stroke="#333" stroke-width="0.9"/>
<line x1="475.54" y1="434.60" x2="475.54" y2="435.90" stroke="#333" stroke-width="0.9"/>
<line x1="479.33" y1="434.60" x2="479.33" y2="435.90" stroke="#333" stroke-width="0.9"/>
<line x1="483.12" y1="434.60" x2="483.12" y2="435.90" stroke="#333" stroke-width="0.9"/>
<line x1="486.90" y1="434.60" x2="486.90" y2="437.10" stroke="#222" stroke-width="1.0"/>
<line x1="490.69" y1="434.60" x2="490.69" y2="435.90" stroke="#333" stroke-width="0.9"/>
<line x1="494.47" y1="434.60" x2="494.47" y2="435.90" stroke="#333" stroke-width="0.9"/>
<line x1="498.26" y1="434.60" x2="498.26" y2="435.90" stroke="#333" stroke-width="0.9"/>
<line x1="502.05" y1="434.60" x2="502.05" y2="435.90" stroke="#333" stroke-width="0.9"/>
<line x1="505.83" y1="434.60" x2="505.83" y2="437.10" stroke="#222" stroke-width="1.0"/>
<line x1="509.62" y1="434.60" x2="509.62" y2="435.90" stroke="#333" stroke-width="0.9"/>
<line x1="513.41" y1="434.60" x2="513.41" y2="435.90" stroke="#333" stroke-width="0.9"/>
<line x1="517.19" y1="434.60" x2="517.19" y2="435.90" stroke="#333" stroke-width="0.9"/>
<line x1="520.98" y1="434.60" x2="520.98" y2="435.90" stroke="#333" stroke-width="0.9"/>
<line x1="524.77" y1="434.60" x2="524.77" y2="437.10" stroke="#222" stroke-width="1.0"/>
<line x1="528.55" y1="434.60" x2="528.55" y2="435.90" stroke="#333" stroke-width="0.9"/>
<line x1="532.34" y1="434.60" x2="532.34" y2="435.90" stroke="#333" stroke-width="0.9"/>
<line x1="536.13" y1="434.60" x2="536.13" y2="435.90" stroke="#333" stroke-width="0.9"/>
<line x1="539.91" y1="434.60" x2="539.91" y2="435.90" stroke="#333" stroke-width="0.9"/>
<line x1="543.70" y1="434.60" x2="543.70" y2="437.10" stroke="#222" stroke-width="1.0"/>
<line x1="547.48" y1="434.60" x2="547.48" y2="435.90" stroke="#333" stroke-width="0.9"/>
<line x1="551.27" y1="434.60" x2="551.27" y2="435.90" stroke="#333" stroke-width="0.9"/>
<line x1="555.06" y1="434.60" x2="555.06" y2="435.90" stroke="#333" stroke-width="0.9"/>
<line x1="558.84" y1="434.60" x2="558.84" y2="435.90" stroke="#333" stroke-width="0.9"/>
<line x1="562.63" y1="434.60" x2="562.63" y2="437.10" stroke="#222" stroke-width="1.0"/>
<line x1="566.42" y1="434.60" x2="566.42" y2="435.90" stroke="#333" stroke-width="0.9"/>
<line x1="570.20" y1="434.60" x2="570.20" y2="435.90" stroke="#333" stroke-width="0.9"/>
<line x1="573.99" y1="434.60" x2="573.99" y2="435.90" stroke="#333" stroke-width="0.9"/>
<line x1="577.78" y1="434.60" x2="577.78" y2="435.90" stroke="#333" stroke-width="0.9"/>
<line x1="581.56" y1="434.60" x2="581.56" y2="437.10" stroke="#222" stroke-width="1.0"/>
<line x1="585.35" y1="434.60" x2="585.35" y2="435.90" stroke="#333" stroke-width="0.9"/>
<line x1="589.13" y1="434.60" x2="589.13" y2="435.90" stroke="#333" stroke-width="0.9"/>
<line x1="592.92" y1="434.60" x2="592.92" y2="435.90" stroke="#333" stroke-width="0.9"/>
<line x1="596.71" y1="434.60" x2="596.71" y2="435.90" stroke="#333" stroke-width="0.9"/>
<line x1="600.49" y1="434.60" x2="600.49" y2="437.10" stroke="#222" stroke-width="1.0"/>
<line x1="604.28" y1="434.60" x2="604.28" y2="435.90" stroke="#333" stroke-width="0.9"/>
<line x1="608.07" y1="434.60" x2="608.07" y2="435.90" stroke="#333" stroke-width="0.9"/>
<line x1="611.85" y1="434.60" x2="611.85" y2="435.90" stroke="#333" stroke-width="0.9"/>
<line x1="615.64" y1="434.60" x2="615.64" y2="435.90" stroke="#333" stroke-width="0.9"/>
<line x1="619.43" y1="434.60" x2="619.43" y2="437.10" stroke="#222" stroke-width="1.0"/>
<line x1="623.21" y1="434.60" x2="623.21" y2="435.90" stroke="#333" stroke-width="0.9"/>
<line x1="627.00" y1="434.60" x2="627.00" y2="435.90" stroke="#333" stroke-width="0.9"/>
<line x1="630.79" y1="434.60" x2="630.79" y2="435.90" stroke="#333" stroke-width="0.9"/>
<line x1="634.57" y1="434.60" x2="634.57" y2="435.90" stroke="#333" stroke-width="0.9"/>
<line x1="638.36" y1="434.60" x2="638.36" y2="437.10" stroke="#222" stroke-width="1.0"/>
<line x1="642.14" y1="434.60" x2="642.14" y2="435.90" stroke="#333" stroke-width="0.9"/>
<line x1="645.93" y1="434.60" x2="645.93" y2="435.90" stroke="#333" stroke-width="0.9"/>
<line x1="649.72" y1="434.60" x2="649.72" y2="435.90" stroke="#333" stroke-width="0.9"/>
<line x1="653.50" y1="434.60" x2="653.50" y2="435.90" stroke="#333" stroke-width="0.9"/>
<line x1="657.29" y1="434.60" x2="657.29" y2="437.10" stroke="#222" stroke-width="1.0"/>
<line x1="661.08" y1="434.60" x2="661.08" y2="435.90" stroke="#333" stroke-width="0.9"/>
<line x1="664.86" y1="434.60" x2="664.86" y2="435.90" stroke="#333" stroke-width="0.9"/>
<line x1="668.65" y1="434.60" x2="668.65" y2="435.90" stroke="#333" stroke-width="0.9"/>
<text x="411.17" y="448.30" font-size="10" text-anchor="middle" font-weight="normal" fill="#151515" stroke="#151515" stroke-width="0.25" transform="translate(411.17 448.30) scale(1 1.08) translate(-411.17 -448.30)">40</text>
<text x="449.04" y="448.30" font-size="10" text-anchor="middle" font-weight="normal" fill="#151515" stroke="#151515" stroke-width="0.25" transform="translate(449.04 448.30) scale(1 1.08) translate(-449.04 -448.30)">80</text>
<text x="486.90" y="448.30" font-size="10" text-anchor="middle" font-weight="normal" fill="#151515" stroke="#151515" stroke-width="0.25" transform="translate(486.90 448.30) scale(1 1.08) translate(-486.90 -448.30)">120</text>
<text x="524.77" y="448.30" font-size="10" text-anchor="middle" font-weight="normal" fill="#151515" stroke="#151515" stroke-width="0.25" transform="translate(524.77 448.30) scale(1 1.08) translate(-524.77 -448.30)">160</text>
<text x="562.63" y="448.30" font-size="10" text-anchor="middle" font-weight="normal" fill="#151515" stroke="#151515" stroke-width="0.25" transform="translate(562.63 448.30) scale(1 1.08) translate(-562.63 -448.30)">200</text>
<text x="600.49" y="448.30" font-size="10" text-anchor="middle" font-weight="normal" fill="#151515" stroke="#151515" stroke-width="0.25" transform="translate(600.49 448.30) scale(1 1.08) translate(-600.49 -448.30)">240</text>
<text x="638.36" y="448.30" font-size="10" text-anchor="middle" font-weight="normal" fill="#151515" stroke="#151515" stroke-width="0.25" transform="translate(638.36 448.30) scale(1 1.08) translate(-638.36 -448.30)">280</text>
<text x="387.20" y="249.52" font-size="10.3" text-anchor="end" font-weight="normal" fill="#151515" stroke="#151515" stroke-width="0.25" transform="translate(387.20 249.52) scale(1 1.08) translate(-387.20 -249.52)">3.0e+06</text>
<text x="387.20" y="274.66" font-size="10.3" text-anchor="end" font-weight="normal" fill="#151515" stroke="#151515" stroke-width="0.25" transform="translate(387.20 274.66) scale(1 1.08) translate(-387.20 -274.66)">2.6e+06</text>
<text x="387.20" y="299.81" font-size="10.3" text-anchor="end" font-weight="normal" fill="#151515" stroke="#151515" stroke-width="0.25" transform="translate(387.20 299.81) scale(1 1.08) translate(-387.20 -299.81)">2.2e+06</text>
<text x="387.20" y="324.95" font-size="10.3" text-anchor="end" font-weight="normal" fill="#151515" stroke="#151515" stroke-width="0.25" transform="translate(387.20 324.95) scale(1 1.08) translate(-387.20 -324.95)">1.8e+06</text>
<text x="387.20" y="350.10" font-size="10.3" text-anchor="end" font-weight="normal" fill="#151515" stroke="#151515" stroke-width="0.25" transform="translate(387.20 350.10) scale(1 1.08) translate(-387.20 -350.10)">1.4e+06</text>
<text x="387.20" y="375.24" font-size="10.3" text-anchor="end" font-weight="normal" fill="#151515" stroke="#151515" stroke-width="0.25" transform="translate(387.20 375.24) scale(1 1.08) translate(-387.20 -375.24)">1.0e+06</text>
<text x="387.20" y="400.38" font-size="10.3" text-anchor="end" font-weight="normal" fill="#151515" stroke="#151515" stroke-width="0.25" transform="translate(387.20 400.38) scale(1 1.08) translate(-387.20 -400.38)">6.0e+05</text>
<text x="387.20" y="425.53" font-size="10.3" text-anchor="end" font-weight="normal" fill="#151515" stroke="#151515" stroke-width="0.25" transform="translate(387.20 425.53) scale(1 1.08) translate(-387.20 -425.53)">2.0e+05</text>
<text x="508.00" y="460.70" font-size="10.4" text-anchor="middle" font-weight="normal" fill="#151515" stroke="#151515" stroke-width="0.25" transform="translate(508.00 460.70) scale(1 1.08) translate(-508.00 -460.70)">m/z</text>
<text x="340.70" y="336.00" font-size="10.0" text-anchor="middle" font-weight="normal" fill="#151515" stroke="#151515" stroke-width="0.25" transform="rotate(-90 340.70 336.00) translate(340.70 336.00) scale(1 1.08) translate(-340.70 -336.00)">Abundance</text>
<text x="322.30" y="236.70" font-size="16" text-anchor="start" font-weight="bold" fill="#000">d</text>
<line x1="410.50" y1="434.60" x2="410.50" y2="428.00" stroke="#111" stroke-width="1.0"/>
<line x1="412.50" y1="434.60" x2="412.50" y2="419.00" stroke="#111" stroke-width="1.0"/>
<line x1="413.80" y1="434.60" x2="413.80" y2="425.00" stroke="#111" stroke-width="1.0"/>
<line x1="416.00" y1="434.60" x2="416.00" y2="431.00" stroke="#111" stroke-width="1.0"/>
<line x1="422.00" y1="434.60" x2="422.00" y2="431.00" stroke="#111" stroke-width="1.0"/>
<line x1="426.00" y1="434.60" x2="426.00" y2="430.50" stroke="#111" stroke-width="1.0"/>
<line x1="428.00" y1="434.60" x2="428.00" y2="424.00" stroke="#111" stroke-width="1.0"/>
<line x1="433.00" y1="434.60" x2="433.00" y2="430.00" stroke="#111" stroke-width="1.0"/>
<line x1="435.50" y1="434.60" x2="435.50" y2="416.00" stroke="#111" stroke-width="1.0"/>
<line x1="439.00" y1="434.60" x2="439.00" y2="428.00" stroke="#111" stroke-width="1.0"/>
<line x1="446.50" y1="434.60" x2="446.50" y2="427.50" stroke="#111" stroke-width="1.0"/>
<line x1="448.50" y1="434.60" x2="448.50" y2="423.00" stroke="#111" stroke-width="1.0"/>
<line x1="449.20" y1="434.60" x2="449.20" y2="414.50" stroke="#111" stroke-width="1.0"/>
<line x1="450.50" y1="434.60" x2="450.50" y2="430.00" stroke="#111" stroke-width="1.0"/>
<line x1="454.50" y1="434.60" x2="454.50" y2="430.50" stroke="#111" stroke-width="1.0"/>
<line x1="457.50" y1="434.60" x2="457.50" y2="425.00" stroke="#111" stroke-width="1.0"/>
<line x1="459.50" y1="434.60" x2="459.50" y2="272.50" stroke="#111" stroke-width="1.0"/>
<line x1="460.80" y1="434.60" x2="460.80" y2="420.00" stroke="#111" stroke-width="1.0"/>
<line x1="465.50" y1="434.60" x2="465.50" y2="413.00" stroke="#111" stroke-width="1.0"/>
<line x1="472.80" y1="434.60" x2="472.80" y2="427.00" stroke="#111" stroke-width="1.0"/>
<line x1="474.90" y1="434.60" x2="474.90" y2="388.00" stroke="#111" stroke-width="1.0"/>
<line x1="476.00" y1="434.60" x2="476.00" y2="426.00" stroke="#111" stroke-width="1.0"/>
<line x1="484.50" y1="434.60" x2="484.50" y2="418.00" stroke="#111" stroke-width="1.0"/>
<line x1="485.50" y1="434.60" x2="485.50" y2="407.00" stroke="#111" stroke-width="1.0"/>
<line x1="486.80" y1="434.60" x2="486.80" y2="431.00" stroke="#111" stroke-width="1.0"/>
<line x1="490.00" y1="434.60" x2="490.00" y2="406.00" stroke="#111" stroke-width="1.0"/>
<line x1="501.50" y1="434.60" x2="501.50" y2="432.50" stroke="#111" stroke-width="1.0"/>
<line x1="518.50" y1="434.60" x2="518.50" y2="432.50" stroke="#111" stroke-width="1.0"/>
<line x1="524.40" y1="434.60" x2="524.40" y2="430.00" stroke="#111" stroke-width="1.0"/>
<line x1="549.70" y1="434.60" x2="549.70" y2="244.00" stroke="#111" stroke-width="1.0"/>
<line x1="550.50" y1="434.60" x2="550.50" y2="411.50" stroke="#111" stroke-width="1.0"/>
<line x1="575.40" y1="434.60" x2="575.40" y2="432.00" stroke="#111" stroke-width="1.0"/>
<text x="459.70" y="271.30" font-size="9.9" text-anchor="middle" font-weight="normal" fill="#151515" stroke="#151515" stroke-width="0.25" transform="translate(459.70 271.30) scale(1 1.08) translate(-459.70 -271.30)">91.1</text>
<text x="565.00" y="250.10" font-size="9.9" text-anchor="middle" font-weight="normal" fill="#151515" stroke="#151515" stroke-width="0.25" transform="translate(565.00 250.10) scale(1 1.08) translate(-565.00 -250.10)">186.1</text>
<text x="444.70" y="383.30" font-size="9.9" text-anchor="middle" font-weight="normal" fill="#151515" stroke="#151515" stroke-width="0.25" transform="translate(444.70 383.30) scale(1 1.08) translate(-444.70 -383.30)">80.1</text>
<text x="476.10" y="385.40" font-size="9.9" text-anchor="middle" font-weight="normal" fill="#151515" stroke="#151515" stroke-width="0.25" transform="translate(476.10 385.40) scale(1 1.08) translate(-476.10 -385.40)">107.1</text>
<text x="506.10" y="391.30" font-size="9.9" text-anchor="middle" font-weight="normal" fill="#151515" stroke="#151515" stroke-width="0.25" transform="translate(506.10 391.30) scale(1 1.08) translate(-506.10 -391.30)">123.1</text>
<text x="409.00" y="415.50" font-size="9.9" text-anchor="middle" font-weight="normal" fill="#151515" stroke="#151515" stroke-width="0.25" transform="translate(409.00 415.50) scale(1 1.08) translate(-409.00 -415.50)">41.1</text>
<text x="433.30" y="413.00" font-size="9.9" text-anchor="middle" font-weight="normal" fill="#151515" stroke="#151515" stroke-width="0.25" transform="translate(433.30 413.00) scale(1 1.08) translate(-433.30 -413.00)">65.1</text>
<text x="525.10" y="429.10" font-size="9.9" text-anchor="middle" font-weight="normal" fill="#151515" stroke="#151515" stroke-width="0.25" transform="translate(525.10 429.10) scale(1 1.08) translate(-525.10 -429.10)">159.1</text>
<text x="577.00" y="430.40" font-size="9.9" text-anchor="middle" font-weight="normal" fill="#151515" stroke="#151515" stroke-width="0.25" transform="translate(577.00 430.40) scale(1 1.08) translate(-577.00 -430.40)">213.1</text>
<line x1="448.20" y1="386.60" x2="449.50" y2="412.80" stroke="#333" stroke-width="0.7"/>
<polygon points="449.50,412.80 447.34,409.30 451.30,409.11" fill="#111"/>
<line x1="496.50" y1="392.50" x2="492.50" y2="404.50" stroke="#333" stroke-width="0.7"/>
<polygon points="492.50,404.50 491.76,400.46 495.52,401.71" fill="#111"/>
<path d="M138.75,17.90 L148.71,23.65 L148.71,35.15 L138.75,40.90 L128.79,35.15 L128.79,23.65 Z" fill="none" stroke="#1a1a1a" stroke-width="1.0" stroke-linejoin="miter"/>
<line x1="139.54" y1="20.67" x2="145.92" y2="24.35" stroke="#1a1a1a" stroke-width="1.0"/>
<line x1="145.92" y1="34.45" x2="139.54" y2="38.13" stroke="#1a1a1a" stroke-width="1.0"/>
<line x1="130.79" y1="33.08" x2="130.79" y2="25.72" stroke="#1a1a1a" stroke-width="1.0"/>
<line x1="148.71" y1="23.65" x2="158.50" y2="18.00" stroke="#1a1a1a" stroke-width="1.0"/>
<line x1="158.50" y1="18.00" x2="165.20" y2="21.80" stroke="#1a1a1a" stroke-width="1.0"/>
<text x="168.00" y="26.60" font-size="8.1" text-anchor="middle" font-weight="normal" fill="#1a1a1a" stroke="#1a1a1a" stroke-width="0.25">O</text>
<line x1="171.00" y1="21.60" x2="175.60" y2="19.40" stroke="#1a1a1a" stroke-width="1.0"/>
<text x="178.00" y="21.30" font-size="8.1" text-anchor="middle" font-weight="normal" fill="#1a1a1a" stroke="#1a1a1a" stroke-width="0.25">P</text>
<line x1="177.30" y1="11.00" x2="177.30" y2="14.20" stroke="#1a1a1a" stroke-width="0.75"/>
<line x1="179.30" y1="11.00" x2="179.30" y2="14.20" stroke="#1a1a1a" stroke-width="0.75"/>
<text x="178.20" y="9.90" font-size="8.1" text-anchor="middle" font-weight="normal" fill="#1a1a1a" stroke="#1a1a1a" stroke-width="0.25">O</text>
<line x1="178.30" y1="22.00" x2="178.30" y2="29.00" stroke="#1a1a1a" stroke-width="1.0"/>
<line x1="180.60" y1="19.20" x2="185.00" y2="21.60" stroke="#1a1a1a" stroke-width="1.0"/>
<text x="187.70" y="26.90" font-size="8.1" text-anchor="middle" font-weight="normal" fill="#1a1a1a" stroke="#1a1a1a" stroke-width="0.25">O</text>
<line x1="190.80" y1="21.60" x2="198.00" y2="18.00" stroke="#1a1a1a" stroke-width="1.0"/>
<line x1="198.00" y1="18.00" x2="198.00" y2="7.00" stroke="#1a1a1a" stroke-width="1.0"/>
<line x1="202.00" y1="12.60" x2="202.00" y2="16.80" stroke="#111" stroke-width="0.85"/>
<line x1="203.82" y1="13.65" x2="200.18" y2="15.75" stroke="#111" stroke-width="0.85"/>
<line x1="203.82" y1="15.75" x2="200.18" y2="13.65" stroke="#111" stroke-width="0.85"/>
<line x1="198.00" y1="18.00" x2="207.60" y2="23.60" stroke="#1a1a1a" stroke-width="1.0"/>
<line x1="207.60" y1="23.60" x2="217.50" y2="18.00" stroke="#1a1a1a" stroke-width="1.0"/>
<line x1="207.60" y1="23.60" x2="217.50" y2="29.50" stroke="#1a1a1a" stroke-width="1.0"/>
<line x1="207.60" y1="23.60" x2="207.60" y2="34.50" stroke="#1a1a1a" stroke-width="1.0"/>
<line x1="128.79" y1="35.15" x2="122.60" y2="38.60" stroke="#1a1a1a" stroke-width="1.0"/>
<text x="121.80" y="43.80" font-size="8.2" text-anchor="end" font-weight="normal" fill="#1a1a1a" stroke="#1a1a1a" stroke-width="0.25">MeO</text>
<path d="M246.40,254.60 L256.27,260.30 L256.27,271.70 L246.40,277.40 L236.53,271.70 L236.53,260.30 Z" fill="none" stroke="#1a1a1a" stroke-width="1.0" stroke-linejoin="miter"/>
<line x1="247.18" y1="257.36" x2="253.50" y2="261.01" stroke="#1a1a1a" stroke-width="1.0"/>
<line x1="253.50" y1="270.99" x2="247.18" y2="274.64" stroke="#1a1a1a" stroke-width="1.0"/>
<line x1="238.53" y1="269.65" x2="238.53" y2="262.35" stroke="#1a1a1a" stroke-width="1.0"/>
<line x1="256.27" y1="260.30" x2="266.80" y2="254.90" stroke="#1a1a1a" stroke-width="1.0"/>
<line x1="266.80" y1="254.90" x2="273.00" y2="258.30" stroke="#1a1a1a" stroke-width="1.0"/>
<text x="276.80" y="263.90" font-size="8.1" text-anchor="middle" font-weight="normal" fill="#1a1a1a" stroke="#1a1a1a" stroke-width="0.25">O</text>
<line x1="280.20" y1="257.80" x2="283.30" y2="256.60" stroke="#1a1a1a" stroke-width="1.0"/>
<text x="287.00" y="257.90" font-size="8.1" text-anchor="middle" font-weight="normal" fill="#1a1a1a" stroke="#1a1a1a" stroke-width="0.25">P</text>
<line x1="285.80" y1="247.60" x2="285.80" y2="251.00" stroke="#1a1a1a" stroke-width="0.75"/>
<line x1="287.80" y1="247.60" x2="287.80" y2="251.00" stroke="#1a1a1a" stroke-width="0.75"/>
<text x="287.20" y="246.00" font-size="8.1" text-anchor="middle" font-weight="normal" fill="#1a1a1a" stroke="#1a1a1a" stroke-width="0.25">O</text>
<line x1="287.00" y1="259.30" x2="287.00" y2="266.30" stroke="#1a1a1a" stroke-width="1.0"/>
<line x1="289.30" y1="256.00" x2="292.80" y2="257.90" stroke="#1a1a1a" stroke-width="1.0"/>
<text x="296.70" y="263.90" font-size="8.1" text-anchor="middle" font-weight="normal" fill="#1a1a1a" stroke="#1a1a1a" stroke-width="0.25">O</text>
<line x1="300.20" y1="258.40" x2="307.50" y2="255.50" stroke="#1a1a1a" stroke-width="1.0"/>
<line x1="307.50" y1="255.50" x2="307.50" y2="243.00" stroke="#1a1a1a" stroke-width="1.0"/>
<line x1="311.50" y1="251.30" x2="311.50" y2="255.50" stroke="#111" stroke-width="0.85"/>
<line x1="313.32" y1="252.35" x2="309.68" y2="254.45" stroke="#111" stroke-width="0.85"/>
<line x1="313.32" y1="254.45" x2="309.68" y2="252.35" stroke="#111" stroke-width="0.85"/>
<line x1="307.50" y1="255.50" x2="317.50" y2="261.50" stroke="#1a1a1a" stroke-width="1.0"/>
<line x1="317.50" y1="261.50" x2="327.50" y2="255.00" stroke="#1a1a1a" stroke-width="1.0"/>
<line x1="317.50" y1="261.50" x2="327.50" y2="266.80" stroke="#1a1a1a" stroke-width="1.0"/>
<line x1="317.50" y1="261.50" x2="317.50" y2="272.50" stroke="#1a1a1a" stroke-width="1.0"/>
</svg>
</body></html>
